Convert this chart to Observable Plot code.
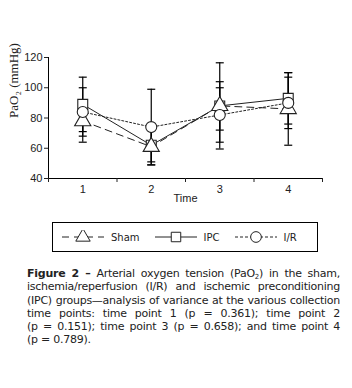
<!DOCTYPE html>
<html>
<head>
<meta charset="utf-8">
<script src="https://cdn.jsdelivr.net/npm/d3@7"></script>
<script src="https://cdn.jsdelivr.net/npm/@observablehq/plot@0.6"></script>
<style>
  body { margin: 0; background: #fff; width: 352px; }
  #legend { margin: 12px 0 0 52px; width: 264px; height: 28px; border: 1px solid #000;
    display: flex; align-items: center; font-family: "DejaVu Sans", sans-serif; font-size: 10px; color: #222; }
  .item { display: flex; align-items: center; margin-left: 8px; margin-right: 6px; }
  .item span { margin-left: 6px; }
  #caption { margin: 15px 12px 0 27px; width: 313px; font-family: "DejaVu Sans", sans-serif; font-size: 11px;
    line-height: 13.3px; color: #222; letter-spacing: -0.25px; }
  #caption .ln { text-align: justify; text-align-last: justify; white-space: nowrap; }
  #caption .ln.last { text-align-last: left; }
  #caption sub { font-size: 7px; line-height: 0; vertical-align: -2px; }
</style>
</head>
<body>
<div id="chart"></div>
<div id="legend"></div>
<div id="caption">
<div class="ln"><b>Figure 2 –</b> Arterial oxygen tension (PaO<sub>2</sub>) in the sham,</div>
<div class="ln">ischemia/reperfusion (I/R) and ischemic preconditioning</div>
<div class="ln">(IPC) groups—analysis of variance at the various collection</div>
<div class="ln">time points: time point 1 (p = 0.361); time point 2</div>
<div class="ln">(p = 0.151); time point 3 (p = 0.658); and time point 4</div>
<div class="ln last">(p = 0.789).</div>
</div>
<script>
const timePoints = [1, 2, 3, 4];
const groups = ["Sham", "IPC", "I/R"];
const shamMean = [78, 61, 88, 86];
const shamSD   = [14, 12, 28.5, 24];
const ipcMean  = [89, 62, 88, 93];
const ipcSD    = [18, 11, 16, 17];
const irMean   = [84, 74, 82, 90];
const irSD     = [16, 25, 18, 17];
const yTicks = [40, 60, 80, 100, 120];

const styles = {
  "Sham": {dash: "7,5", symbol: "triangle"},
  "IPC":  {dash: null, symbol: "square"},
  "I/R":  {dash: "2,2", symbol: "circle"}
};
const series = {"Sham": [shamMean, shamSD], "IPC": [ipcMean, ipcSD], "I/R": [irMean, irSD]};
const rows = groups.flatMap(g => timePoints.map((t, i) => ({group: g, t, mean: series[g][0][i], sd: series[g][1][i]})));
const capSymbol = {draw(ctx, size) { const w = 4; ctx.moveTo(-w, 0); ctx.lineTo(w, 0); }};

const marks = [
  Plot.ruleY([40], {stroke: "#000"}),
  Plot.ruleX([0.5], {y1: 40, y2: 120, stroke: "#000"}),
  Plot.axisY({ticks: yTicks, tickSize: 4, label: null, fontSize: 11, fontFamily: "Liberation Sans, Arial", tickPadding: 2}),
  Plot.axisX({ticks: [0.5, 1.5, 2.5, 3.5, 4.5], tickFormat: () => "", tickSize: 4, label: null}),
  Plot.axisX({ticks: timePoints, tickFormat: d3.format("d"), tickSize: 0, tickPadding: 7, label: null, fontSize: 11, fontFamily: "Liberation Sans, Arial"}),
  Plot.text(["PaO₂ (mmHg)"], {frameAnchor: "left", rotate: -90, dx: -35, fontSize: 13, fontFamily: "Liberation Serif, serif", fill: "#222"}),
  Plot.text(["Time"], {frameAnchor: "bottom", dy: 23, fontSize: 11, fontFamily: "Liberation Sans, Arial", fill: "#222"}),
  Plot.ruleX(rows, {x: "t", y1: d => d.mean - d.sd, y2: d => d.mean + d.sd, stroke: "#000", strokeWidth: 1.2}),
  Plot.dot(rows, {x: "t", y: d => d.mean + d.sd, symbol: () => capSymbol, stroke: "#000", strokeWidth: 1.2, r: 4}),
  Plot.dot(rows, {x: "t", y: d => d.mean - d.sd, symbol: () => capSymbol, stroke: "#000", strokeWidth: 1.2, r: 4}),
];
for (const g of groups) {
  const data = rows.filter(d => d.group === g);
  marks.push(Plot.line(data, {x: "t", y: "mean", stroke: "#222", strokeWidth: 1, strokeDasharray: styles[g].dash}));
}
for (const g of ["IPC", "Sham", "I/R"]) {
  const data = rows.filter(d => d.group === g);
  const r = g === "IPC" ? 5.6 : g === "Sham" ? 6 : 5.5;
  marks.push(Plot.dot(data, {x: "t", y: "mean", symbol: styles[g].symbol, r, fill: "#fff", stroke: "#222", strokeWidth: 1.1}));
}

const chart = Plot.plot({
  width: 352, height: 210,
  marginTop: 57, marginBottom: 32, marginLeft: 48, marginRight: 30,
  x: {domain: [0.5, 4.5], axis: null},
  y: {domain: [40, 120], axis: null},
  style: {background: "#fff", color: "#222"},
  marks
});
document.getElementById("chart").appendChild(chart);

// legend
const legend = d3.select("#legend");
for (const g of groups) {
  const item = legend.append("div").attr("class", "item");
  const svg = item.append("svg").attr("width", 44).attr("height", 14);
  svg.append("line").attr("x1", 1).attr("x2", 43).attr("y1", 7).attr("y2", 7)
    .attr("stroke", "#222").attr("stroke-dasharray", g === "I/R" ? "3,2" : styles[g].dash);
  const sym = d3.symbol(g === "Sham" ? d3.symbolTriangle : g === "IPC" ? d3.symbolSquare : d3.symbolCircle, 90);
  svg.append("path").attr("d", sym()).attr("transform", "translate(22,7)")
    .attr("fill", "#fff").attr("stroke", "#222");
  item.append("span").text(g);
}
</script>
</body>
</html>
